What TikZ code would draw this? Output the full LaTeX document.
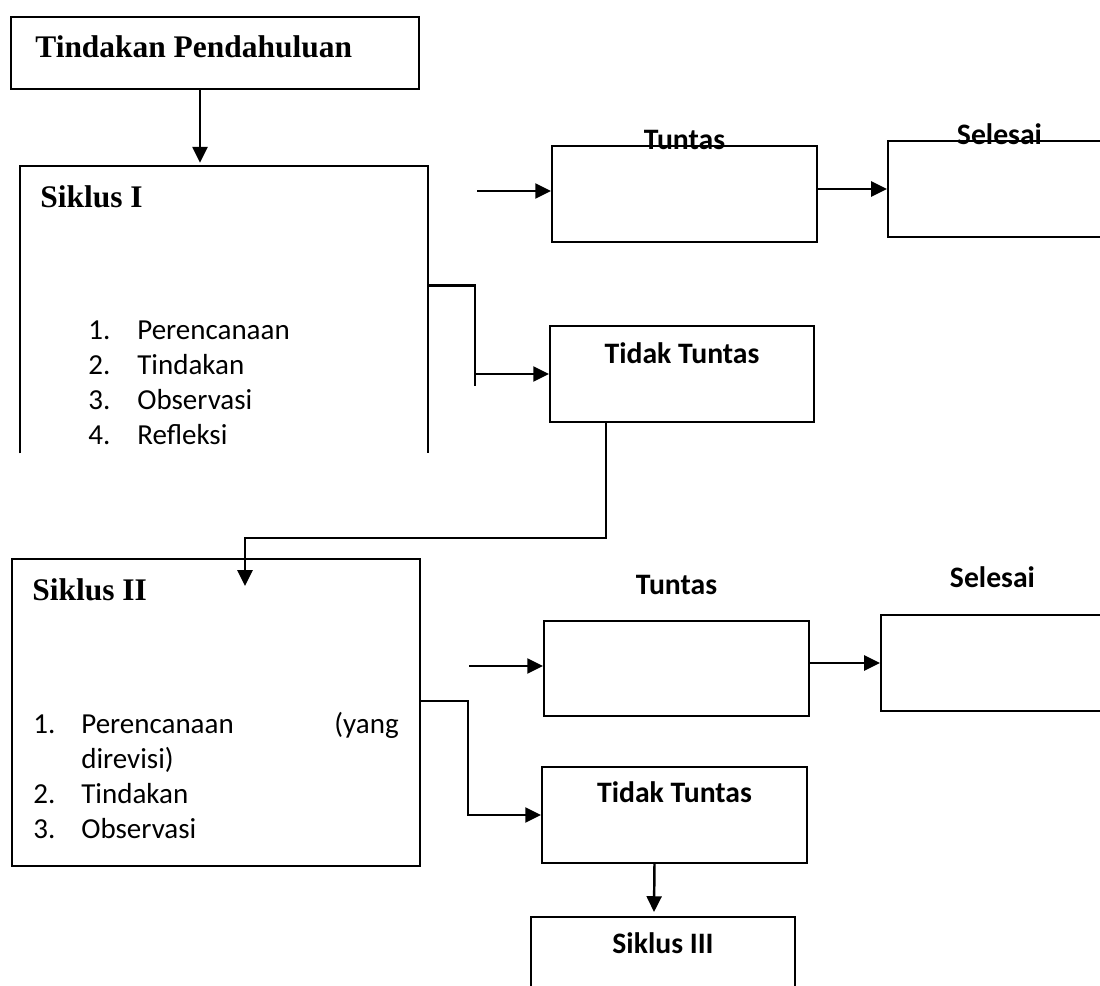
\documentclass[tikz,border=0pt]{standalone}
\usepackage{fontspec}
\setmainfont{Liberation Serif}
\newfontfamily\calibri{Carlito}
\usetikzlibrary{arrows.meta, calc}
\tikzset{
    % Box styles - plain black frames
    stage/.style={
        rectangle,
        draw=black,
        line width=1.1pt,
        inner sep=0pt
    },
    openstage/.style={
        rectangle,
        inner sep=0pt
    },
    frame/.style={
        line width=1.1pt,
        draw=black
    },
    % Text styles
    cycletitle/.style={
        font=\bfseries\fontsize{17.9}{21}\selectfont,
        anchor=base west,
        inner sep=0pt
    },
    outcome/.style={
        font=\calibri\bfseries\fontsize{16.9}{20}\selectfont,
        anchor=base,
        inner sep=0pt
    },
    item/.style={
        font=\calibri\fontsize{16.5}{19.9}\selectfont,
        anchor=base west,
        inner sep=0pt
    },
    % Arrow styles - straight lines only
    arrow/.style={
        ->,
        >={Triangle[length=9pt, width=8.5pt]},
        line width=1.4pt,
        draw=black
    },
    link/.style={
        line width=1.4pt,
        draw=black
    }
}
\begin{document}
\begin{tikzpicture}[x=0.02cm, y=-0.02cm]
    \useasboundingbox (0,0) rectangle (1100,985);
    \clip (0,0) rectangle (1100,985);

    % First cycle
    \node[stage, minimum width=8.16cm, minimum height=1.44cm] (tp) at (215,53) {};
    \node[cycletitle] (tptext) at (35,57) {Tindakan Pendahuluan};

    \node[openstage, minimum width=8.16cm, minimum height=5.74cm] (sI) at (224,309.5) {};
    \draw[frame] (sI.south west) -- (sI.north west) -- (sI.north east) -- (sI.south east);
    \node[cycletitle] (sItext) at (40,207) {Siklus I};
    \node[item] (sIn1) at (88,339) {1.};
    \node[item] (sIi1) at (137,339) {Perencanaan};
    \node[item] (sIn2) at (88,374) {2.};
    \node[item] (sIi2) at (137,374) {Tindakan};
    \node[item] (sIn3) at (88,409) {3.};
    \node[item] (sIi3) at (137,409) {Observasi};
    \node[item] (sIn4) at (88,444) {4.};
    \node[item] (sIi4) at (137,444) {Refleksi};

    \node[stage, minimum width=5.3cm, minimum height=1.92cm] (tA) at (684.5,194) {};
    \node[outcome] (tAtext) at ($(tA.north)+(0,4)$) {Tuntas};

    \node[stage, minimum width=4.46cm, minimum height=1.92cm] (sA) at (999.5,189) {};
    \node[outcome] (sAtext) at ($(sA.north)+(0,4)$) {Selesai};

    \node[stage, minimum width=5.28cm, minimum height=1.92cm] (ttA) at (682,374) {};
    \node[outcome] (ttAtext) at ($(ttA.north)+(0,38)$) {Tidak Tuntas};

    \coordinate (inA) at (477,191);
    \coordinate (dropA) at (245,586);

    % Second cycle
    \node[stage, minimum width=8.16cm, minimum height=6.14cm] (sII) at (216,712.5) {};
    \node[cycletitle] (sIItext) at (32,600) {Siklus II};
    \node[item] (sIIn1) at (33,733) {1.};
    \node[item] (sIIi1) at (81,733) {Perencanaan};
    \node[item, anchor=base east] (sIIi1b) at (399,733) {(yang};
    \node[item] (sIIi1c) at (81,768) {direvisi)};
    \node[item] (sIIn2) at (33,803) {2.};
    \node[item] (sIIi2) at (81,803) {Tindakan};
    \node[item] (sIIn3) at (33,838) {3.};
    \node[item] (sIIi3) at (81,838) {Observasi};

    \node[stage, minimum width=5.3cm, minimum height=1.9cm] (tB) at (676.5,668.5) {};
    \node[outcome] (tBtext) at ($(tB.north)+(0,-26)$) {Tuntas};

    \node[stage, minimum width=4.46cm, minimum height=1.92cm] (sB) at (992.5,663) {};
    \node[outcome] (sBtext) at ($(sB.north)+(0,-27)$) {Selesai};

    \node[stage, minimum width=5.3cm, minimum height=1.92cm] (ttB) at (674.5,815) {};
    \node[outcome] (ttBtext) at ($(ttB.north)+(0,36)$) {Tidak Tuntas};

    \node[stage, minimum width=5.28cm, minimum height=1.92cm] (sIII) at (663,965) {};
    \node[outcome] (sIIItext) at ($(sIII.north)+(0,37)$) {Siklus III};

    \coordinate (inB) at (469,666);

    % Arrows
    \draw[arrow] ($(tp.south)+(-15,0)$) -- ($(sI.north)+(-24,-3)$);
    \draw[arrow] (inA) -- (inA -| tA.west);
    \draw[arrow] (sA.west -| tA.east) -- (sA.west);
    \draw[arrow] ($(sI.north east)+(0,120)$) -| ($(ttA.west)+(-74,0)$) -- (ttA.west);
    \draw[link] ($(ttA.west)+(-74,0)$) -- ++(0,12);
    \draw[arrow] ($(ttA.south)+(-76,0)$) -- ++(0,115) -| (dropA);

    \draw[arrow] (inB) -- (inB -| tB.west);
    \draw[arrow] (sB.west -| tB.east) -- (sB.west);
    \draw[arrow] ($(sII.north east)+(0,143)$) -| ($(ttB.west)+(-73,0)$) -- (ttB.west);
    \draw[arrow] ($(ttB.south)+(-20,0)$) -- ($(sIII.north)+(-9,-4)$);
\end{tikzpicture}
\end{document}
